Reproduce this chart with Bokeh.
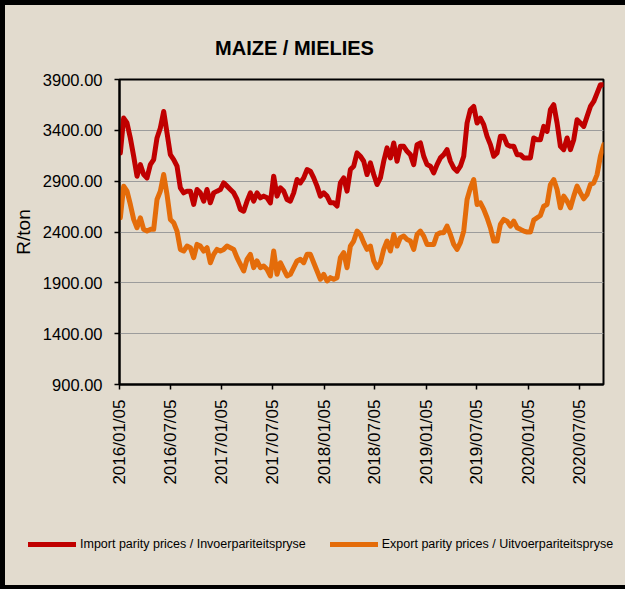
import numpy as np
import pandas as pd
from bokeh.plotting import figure
from bokeh.layouts import column
from bokeh.models import (FixedTicker, DatetimeTickFormatter, PrintfTickFormatter,
                          Legend, LegendItem, Label, Range1d)
from bokeh.embed import file_html
from bokeh.resources import INLINE

# ---------------- data ----------------
start_date = "2016-01-08"
step_hours = 286  # roughly every 12 days

import_parity = [
    3178, 3521, 3472, 3325, 3145, 2949, 3063, 2965, 2932, 3063, 3112, 3325, 3423, 3586, 3374, 3161,
    3112, 3047, 2834, 2785, 2802, 2802, 2671, 2818, 2785, 2703, 2818, 2687, 2785, 2802, 2818, 2883,
    2851, 2818, 2785, 2720, 2622, 2605,
    2703, 2785, 2703, 2785, 2736, 2753, 2736, 2687, 2949, 2753, 2834, 2802, 2720, 2703, 2785, 2916,
    2883, 2932, 3014, 2998, 2932, 2851, 2753, 2785, 2753, 2687, 2687, 2655, 2883, 2932, 2802, 3014,
    3047, 3178, 3145, 3096, 2965, 3080,
    2965, 2867, 2932, 3096, 3227, 3129, 3276, 3096, 3243, 3243, 3194, 3161, 3063, 3259, 3276, 3145,
    3063, 3047, 2981, 3063, 3129, 3161, 3210, 3096, 3030, 2998, 3047, 3145, 3472, 3603, 3635, 3472,
    3521, 3456, 3341, 3259, 3145, 3178,
    3341, 3341, 3259, 3243, 3243, 3161, 3161, 3129, 3129, 3129, 3325, 3308, 3308, 3439, 3390, 3603,
    3652, 3472, 3243, 3210, 3325, 3210, 3308, 3505, 3472, 3439, 3537, 3635, 3684, 3766, 3848, 3848,
]

export_parity = [
    2540, 2851, 2802, 2671, 2524, 2442, 2540, 2426, 2409, 2426, 2426, 2720, 2802, 2965, 2769, 2524,
    2491, 2409, 2229, 2213, 2262, 2246, 2148, 2278, 2262, 2213, 2246, 2098, 2180, 2229, 2213, 2229,
    2262, 2246, 2229, 2148, 2082, 2017,
    2131, 2180, 2049, 2115, 2049, 2066, 2033, 1968, 2213, 1984, 2098, 2033, 1968, 1984, 2049, 2115,
    2131, 2098, 2180, 2180, 2098, 2017, 1935, 1984, 1918, 1951, 1935, 1951, 2148, 2197, 2049, 2262,
    2311, 2409, 2376, 2295, 2229, 2262,
    2115, 2049, 2098, 2229, 2311, 2213, 2376, 2262, 2344, 2360, 2327, 2311, 2229, 2376, 2409, 2360,
    2278, 2278, 2278, 2376, 2393, 2393, 2458, 2376, 2278, 2229, 2295, 2409, 2720, 2834, 2916, 2671,
    2687, 2622, 2540, 2442, 2311, 2311,
    2475, 2524, 2507, 2458, 2507, 2442, 2426, 2409, 2400, 2400, 2517, 2540, 2563, 2654, 2671, 2867,
    2916, 2818, 2638, 2753, 2703, 2638, 2753, 2851, 2785, 2726, 2769, 2867, 2883, 2965, 3145, 3259,
]

tick_dates = ["2016-01-05", "2016-07-05", "2017-01-05", "2017-07-05", "2018-01-05",
              "2018-07-05", "2019-01-05", "2019-07-05", "2020-01-05", "2020-07-05"]
y_ticks = [900, 1400, 1900, 2400, 2900, 3400, 3900]

title_text = "MAIZE / MIELIES"
y_label = "R/ton"
import_label = "Import parity prices / Invoerpariteitspryse"
export_label = "Export parity prices / Uitvoerpariteitspryse"

dates = pd.date_range(start=start_date, periods=len(import_parity), freq=f"{step_hours}h")

# ---------------- styling ----------------
BG = "#e2dbce"
RED = "#c00000"
ORANGE = "#e46c0a"
FONT = "'Liberation Sans Narrow', 'Liberation Sans', Arial, sans-serif"
W = 625


def bare(fig):
    fig.border_fill_color = None
    fig.background_fill_color = None
    fig.outline_line_color = None
    fig.axis.visible = False
    fig.grid.visible = False
    return fig


# ---- title strip ----
pt = figure(width=W, height=69, output_backend="svg", toolbar_location=None,
            x_range=Range1d(0, W), y_range=Range1d(0, 69),
            min_border=0, min_border_left=0, min_border_right=0,
            min_border_top=0, min_border_bottom=0, frame_align=False)
bare(pt)
pt.add_layout(Label(x=294, y=22, x_units="screen", y_units="screen", text=title_text,
                    text_align="center", text_baseline="alphabetic",
                    text_font=FONT, text_font_size="20px", text_font_style="bold",
                    text_color="black"))

# ---- main chart ----
p = figure(width=W, height=441, x_axis_type="datetime",
           output_backend="svg", toolbar_location=None,
           x_range=Range1d(pd.Timestamp("2016-01-05"), pd.Timestamp("2020-09-30")),
           y_range=Range1d(900, 3900),
           min_border_left=119, min_border_right=22, min_border_top=10, min_border_bottom=126,
           frame_align=False)
p.border_fill_color = None
p.background_fill_color = None
p.outline_line_color = "black"
p.outline_line_width = 2

r1 = p.line(dates, import_parity, line_color=RED, line_width=5, line_join="round", line_cap="round")
r2 = p.line(dates, export_parity, line_color=ORANGE, line_width=5, line_join="round", line_cap="round")

p.xaxis.ticker = FixedTicker(ticks=[pd.Timestamp(d).value / 1e6 for d in tick_dates])
fmt = "%Y/%m/%d"
p.xaxis.formatter = DatetimeTickFormatter(microseconds=fmt, milliseconds=fmt, seconds=fmt,
                                          minsec=fmt, minutes=fmt, hourmin=fmt, hours=fmt,
                                          days=fmt, months=fmt, years=fmt)
p.xaxis.major_label_orientation = np.pi / 2
p.xaxis.major_label_text_font = FONT
p.xaxis.major_label_text_font_size = "17px"
p.xaxis.major_label_standoff = 10

p.yaxis.ticker = FixedTicker(ticks=y_ticks)
p.yaxis.formatter = PrintfTickFormatter(format="%.2f")
p.yaxis.major_label_text_font = FONT
p.yaxis.major_label_text_font_size = "16.5px"
p.yaxis.major_label_standoff = 12
p.yaxis.axis_label = y_label
p.yaxis.axis_label_text_font = FONT
p.yaxis.axis_label_text_font_size = "19px"
p.yaxis.axis_label_text_font_style = "normal"
p.yaxis.axis_label_text_color = "black"
p.yaxis.axis_label_standoff = 6

for ax in (p.xaxis, p.yaxis):
    ax.axis_line_color = "black"
    ax.axis_line_width = 2
    ax.major_tick_line_color = "black"
    ax.major_tick_line_width = 1.5
    ax.major_tick_out = 5
    ax.major_tick_in = 0
    ax.minor_tick_line_color = None
    ax.major_label_text_color = "black"

p.xgrid.grid_line_color = None
p.ygrid.grid_line_color = "#9c9c9c"
p.ygrid.grid_line_width = 1
p.ygrid.ticker = FixedTicker(ticks=y_ticks)

# ---- legend strip (series drawn off-range, only their legend swatches show) ----
pl = figure(width=W, height=79, output_backend="svg", toolbar_location=None,
            x_range=Range1d(0, 1), y_range=Range1d(0, 1),
            min_border=0, min_border_left=0, min_border_right=0,
            min_border_top=0, min_border_bottom=0, frame_align=False)
bare(pl)
l1 = pl.line(dates, import_parity, line_color=RED, line_width=5, line_cap="round")
l2 = pl.line(dates, export_parity, line_color=ORANGE, line_width=5, line_cap="round")
legend = Legend(items=[LegendItem(label=import_label, renderers=[l1]),
                       LegendItem(label=export_label, renderers=[l2])],
                orientation="horizontal", location=(28, 37),
                glyph_width=48, glyph_height=16, label_height=16, label_standoff=4,
                spacing=24, padding=0, margin=0,
                background_fill_alpha=0, border_line_alpha=0,
                label_text_font=FONT, label_text_font_size="12.5px",
                label_text_color="black")
pl.add_layout(legend)

layout = column(pt, p, pl, spacing=0)
layout.styles = {"background-color": BG,
                 "box-shadow": "inset 5px 5px 0 0 #000, inset 0 -4px 0 0 #000"}

open("out.html", "w").write(file_html(layout, INLINE))
